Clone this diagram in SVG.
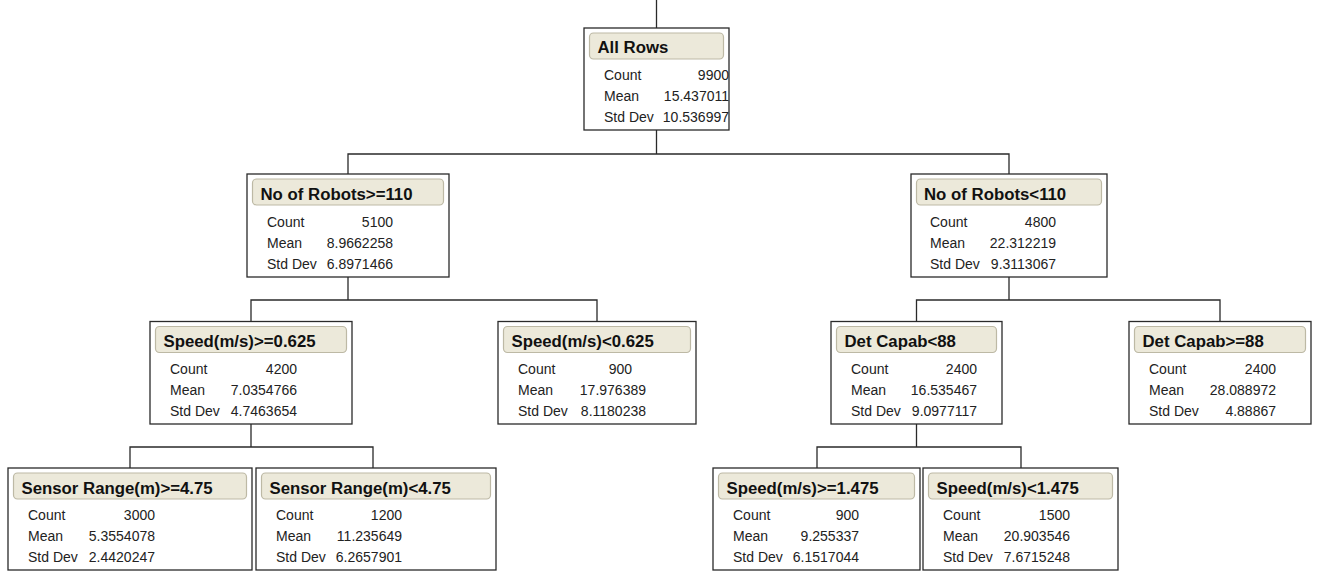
<svg xmlns="http://www.w3.org/2000/svg" width="1318" height="573" viewBox="0 0 1318 573">
<style>
.box{fill:#fff;stroke:#2a2a2a;stroke-width:1.3}
.hdr{fill:#ECE9DA;stroke:#BDB9A5;stroke-width:1.2}
.ht{font-family:"Liberation Sans",Arial,sans-serif;font-weight:bold;font-size:16.8px;fill:#111}
.lb{font-family:"Liberation Sans",Arial,sans-serif;font-size:14px;fill:#222}
.v{font-family:"Liberation Sans",Arial,sans-serif;font-size:14px;fill:#222;text-anchor:end}
.c{fill:none;stroke:#2a2a2a;stroke-width:1.3}
</style>
<rect width="1318" height="573" fill="#fff"/>
<g id="connectors">
<path class="c" d="M656.5 0V28"/>
<path class="c" d="M656.5 130V154M348 174V154H1009V174"/>
<path class="c" d="M348 277V300M251 321.5V300H597V321.5"/>
<path class="c" d="M1009 277V300M916.5 321.5V300H1220V321.5"/>
<path class="c" d="M251 424V447M130 468V447H373V468"/>
<path class="c" d="M916.5 424V447M817 468V447H1021V468"/>
</g>
<g id="n-root">
<rect class="box" x="584" y="28" width="145" height="102"/>
<rect class="hdr" x="589.5" y="33" width="134" height="26" rx="4"/>
<text class="ht" x="597.5" y="53">All Rows</text>
<text class="lb" x="604" y="80">Count</text><text class="v" x="729" y="80">9900</text>
<text class="lb" x="604" y="101">Mean</text><text class="v" x="729" y="101">15.437011</text>
<text class="lb" x="604" y="122">Std Dev</text><text class="v" x="729" y="122">10.536997</text>
</g>
<g id="n-robots-ge110">
<rect class="box" x="247" y="174" width="202" height="103"/>
<rect class="hdr" x="252.5" y="179" width="191" height="26" rx="4"/>
<text class="ht" x="260.5" y="199.5">No of Robots&gt;=110</text>
<text class="lb" x="267" y="226.5">Count</text><text class="v" x="393" y="226.5">5100</text>
<text class="lb" x="267" y="247.5">Mean</text><text class="v" x="393" y="247.5">8.9662258</text>
<text class="lb" x="267" y="268.5">Std Dev</text><text class="v" x="393" y="268.5">6.8971466</text>
</g>
<g id="n-robots-lt110">
<rect class="box" x="911" y="174" width="196" height="103"/>
<rect class="hdr" x="916.5" y="179" width="185" height="26" rx="4"/>
<text class="ht" x="924" y="199.5">No of Robots&lt;110</text>
<text class="lb" x="930" y="226.5">Count</text><text class="v" x="1056" y="226.5">4800</text>
<text class="lb" x="930" y="247.5">Mean</text><text class="v" x="1056" y="247.5">22.312219</text>
<text class="lb" x="930" y="268.5">Std Dev</text><text class="v" x="1056" y="268.5">9.3113067</text>
</g>
<g id="n-speed-ge0625">
<rect class="box" x="150" y="321.5" width="202" height="102.5"/>
<rect class="hdr" x="155.5" y="326.5" width="191" height="26" rx="4"/>
<text class="ht" x="163.5" y="347">Speed(m/s)&gt;=0.625</text>
<text class="lb" x="170" y="374">Count</text><text class="v" x="297" y="374">4200</text>
<text class="lb" x="170" y="395">Mean</text><text class="v" x="297" y="395">7.0354766</text>
<text class="lb" x="170" y="416">Std Dev</text><text class="v" x="297" y="416">4.7463654</text>
</g>
<g id="n-speed-lt0625">
<rect class="box" x="498" y="321.5" width="198" height="102.5"/>
<rect class="hdr" x="503.5" y="326.5" width="187" height="26" rx="4"/>
<text class="ht" x="511.5" y="347">Speed(m/s)&lt;0.625</text>
<text class="lb" x="518" y="374">Count</text><text class="v" x="632" y="374">900</text>
<text class="lb" x="518" y="395">Mean</text><text class="v" x="646" y="395">17.976389</text>
<text class="lb" x="518" y="416">Std Dev</text><text class="v" x="646" y="416">8.1180238</text>
</g>
<g id="n-det-lt88">
<rect class="box" x="831" y="321.5" width="171" height="102.5"/>
<rect class="hdr" x="836.5" y="326.5" width="160" height="26" rx="4"/>
<text class="ht" x="844.5" y="347">Det Capab&lt;88</text>
<text class="lb" x="851" y="374">Count</text><text class="v" x="977" y="374">2400</text>
<text class="lb" x="851" y="395">Mean</text><text class="v" x="977" y="395">16.535467</text>
<text class="lb" x="851" y="416">Std Dev</text><text class="v" x="977" y="416">9.0977117</text>
</g>
<g id="n-det-ge88">
<rect class="box" x="1129" y="321.5" width="182" height="102.5"/>
<rect class="hdr" x="1134.5" y="326.5" width="171" height="26" rx="4"/>
<text class="ht" x="1142.5" y="347">Det Capab&gt;=88</text>
<text class="lb" x="1149" y="374">Count</text><text class="v" x="1276" y="374">2400</text>
<text class="lb" x="1149" y="395">Mean</text><text class="v" x="1276" y="395">28.088972</text>
<text class="lb" x="1149" y="416">Std Dev</text><text class="v" x="1276" y="416">4.88867</text>
</g>
<g id="n-sensor-ge475">
<rect class="box" x="8" y="468" width="244" height="102"/>
<rect class="hdr" x="13.5" y="473" width="233" height="26" rx="4"/>
<text class="ht" x="21.5" y="493.5">Sensor Range(m)&gt;=4.75</text>
<text class="lb" x="28" y="520">Count</text><text class="v" x="155" y="520">3000</text>
<text class="lb" x="28" y="541">Mean</text><text class="v" x="155" y="541">5.3554078</text>
<text class="lb" x="28" y="562">Std Dev</text><text class="v" x="155" y="562">2.4420247</text>
</g>
<g id="n-sensor-lt475">
<rect class="box" x="256" y="468" width="240" height="102"/>
<rect class="hdr" x="261.5" y="473" width="229" height="26" rx="4"/>
<text class="ht" x="269.5" y="493.5">Sensor Range(m)&lt;4.75</text>
<text class="lb" x="276" y="520">Count</text><text class="v" x="402" y="520">1200</text>
<text class="lb" x="276" y="541">Mean</text><text class="v" x="402" y="541">11.235649</text>
<text class="lb" x="276" y="562">Std Dev</text><text class="v" x="402" y="562">6.2657901</text>
</g>
<g id="n-speed-ge1475">
<rect class="box" x="713" y="468" width="207" height="102"/>
<rect class="hdr" x="718.5" y="473" width="196" height="26" rx="4"/>
<text class="ht" x="726.5" y="493.5">Speed(m/s)&gt;=1.475</text>
<text class="lb" x="733" y="520">Count</text><text class="v" x="859" y="520">900</text>
<text class="lb" x="733" y="541">Mean</text><text class="v" x="859" y="541">9.255337</text>
<text class="lb" x="733" y="562">Std Dev</text><text class="v" x="859" y="562">6.1517044</text>
</g>
<g id="n-speed-lt1475">
<rect class="box" x="923" y="468" width="195" height="102"/>
<rect class="hdr" x="928.5" y="473" width="184" height="26" rx="4"/>
<text class="ht" x="936.5" y="493.5">Speed(m/s)&lt;1.475</text>
<text class="lb" x="943" y="520">Count</text><text class="v" x="1070" y="520">1500</text>
<text class="lb" x="943" y="541">Mean</text><text class="v" x="1070" y="541">20.903546</text>
<text class="lb" x="943" y="562">Std Dev</text><text class="v" x="1070" y="562">7.6715248</text>
</g>
</svg>
